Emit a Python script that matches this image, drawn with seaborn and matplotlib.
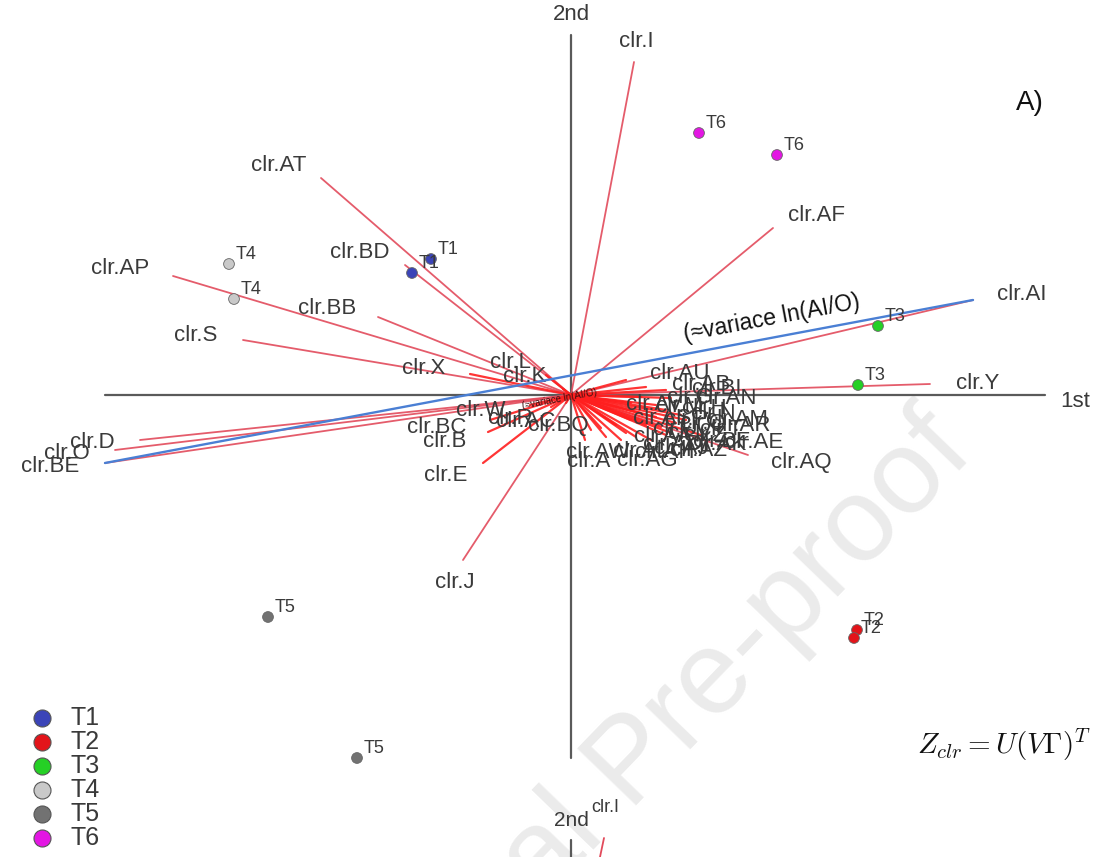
import numpy as np
import pandas as pd
import matplotlib
matplotlib.use("Agg")
import matplotlib.pyplot as plt
import seaborn as sns

# ---- clr variable loadings on the 1st / 2nd axes ----
var_names = ["clr.I", "clr.AT", "clr.AF", "clr.BD", "clr.AP", "clr.BB", "clr.S",
             "clr.L", "clr.K", "clr.X", "clr.AI", "clr.Y", "clr.D", "clr.O", "clr.BE",
             "clr.W", "clr.BC", "clr.B", "clr.E", "clr.J", "clr.R", "clr.BQ", "clr.AC",
             "clr.A", "clr.AK", "clr.AQ",
             "clr.AU", "clr.AB", "clr.BI", "clr.AN", "clr.G", "clr.H", "clr.M", "clr.N",
             "clr.P", "clr.Q", "clr.T", "clr.U", "clr.V", "clr.Z", "clr.AA", "clr.AD",
             "clr.AE", "clr.AG", "clr.AH", "clr.AJ", "clr.AZ", "clr.AL", "clr.AM",
             "clr.AR", "clr.AS", "clr.AV", "clr.AW", "clr.BF"]
var_x = [0.63, -2.50, 2.02, -1.66, -3.98, -1.93, -3.28,
         -0.25, -0.08, -1.01, 4.02, 3.59, -4.31, -4.56, -4.66,
         -0.41, -0.81, -0.83, -0.88, -1.08, -0.20, -0.05, -0.03,
         0.14, 0.95, 1.77,
         0.55, 0.75, 0.95, 1.00, 0.70, 0.85, 0.60, 0.95,
         0.70, 0.85, 1.05, 0.60, 0.75, 0.90, 0.45, 0.55,
         1.30, 0.35, 0.50, 0.65, 0.80, 0.30, 1.10,
         1.15, 0.40, 0.30, 0.20, 1.00]
var_y = [3.33, 2.17, 1.67, 1.30, 1.19, 0.78, 0.55,
         0.20, 0.06, 0.21, 0.95, 0.11, -0.45, -0.55, -0.68,
         -0.10, -0.25, -0.37, -0.68, -1.65, -0.12, -0.08, -0.03,
         -0.45, -0.40, -0.60,
         0.15, 0.08, 0.05, -0.03, -0.02, -0.10, -0.08, -0.15,
         -0.18, -0.22, -0.28, -0.25, -0.30, -0.32, -0.30, -0.38,
         -0.40, -0.42, -0.45, -0.42, -0.45, -0.33, -0.20,
         -0.25, -0.15, -0.05, -0.35, -0.38]

# link between two variable tips and its caption
link_ends = ("clr.AI", "clr.BE")
link_caption = "(≈variace ln(AI/O)"

# ---- sample scores ----
sample_group = ["T1", "T1", "T2", "T2", "T3", "T3", "T4", "T4", "T5", "T5", "T6", "T6"]
sample_x = [-1.40, -1.59, 2.86, 2.83, 3.07, 2.87, -3.42, -3.37, -3.03, -2.14, 1.28, 2.06]
sample_y = [1.36, 1.22, -2.35, -2.43, 0.69, 0.10, 1.31, 0.96, -2.22, -3.63, 2.62, 2.40]

groups = ["T1", "T2", "T3", "T4", "T5", "T6"]
group_colors = {"T1": "#3b44b8", "T2": "#e3141a", "T3": "#25d025",
                "T4": "#c9c9c9", "T5": "#727272", "T6": "#e316e3"}

# neighbouring panel peeking in at the bottom edge
next_axis_label = "2nd"
next_var_name = "clr.I"

sns.set_theme(style="white")
plt.rcParams["font.family"] = ["Liberation Sans", "DejaVu Sans"]
plt.rcParams["mathtext.fontset"] = "cm"

fig = plt.figure(figsize=(10.97, 8.57), dpi=100)
ax = fig.add_axes([0, 0, 1, 1])
ax.set_xlim(-5.71, 5.26)
ax.set_ylim(-4.62, 3.95)
ax.axis("off")

txt_col = "#3a3a3a"

# watermark
ax.text(0.62, -3.70, "Journal Pre-proof", rotation=46, fontsize=86,
        color="#ebebeb", ha="center", va="center", zorder=0)

# axes of the biplot
ax.plot([-4.66, 4.74], [0, 0], color="#5a5a5a", lw=1.6, zorder=1)
ax.plot([0, 0], [3.60, -3.63], color="#5a5a5a", lw=1.6, zorder=1)
ax.text(0, 3.80, "2nd", fontsize=16, color=txt_col, ha="center", va="center")
ax.text(5.04, -0.07, "1st", fontsize=16, color=txt_col, ha="center", va="center")

# variable arrows and their labels
for name, x, y in zip(var_names, var_x, var_y):
    length = np.hypot(x, y)
    short = length < 1.5
    ax.plot([0, x], [0, y], color="#ff1f1f" if short else "#e24a5b",
            lw=1.6 if short else 1.3, alpha=0.9, zorder=2,
            solid_capstyle="round")
    ux, uy = x / length, y / length
    off = (10 + 16 * ux ** 2) / 100.0
    ha = "left" if ux > 0.6 else ("right" if ux < -0.6 else "center")
    va = "bottom" if uy > 0.7 else ("top" if uy < -0.7 else "center")
    ax.text(x + ux * off, y + uy * off, name, fontsize=16, color=txt_col,
            ha=ha, va=va, zorder=3)

# link line between two tips
i0, i1 = var_names.index(link_ends[0]), var_names.index(link_ends[1])
ax.plot([var_x[i0], var_x[i1]], [var_y[i0], var_y[i1]], color="#4a7fd4",
        lw=1.7, zorder=3)
ang = np.degrees(np.arctan2(var_y[i0] - var_y[i1], var_x[i0] - var_x[i1]))
ax.text(2.01, 0.77, link_caption, rotation=ang, fontsize=16.5, color="#111111",
        ha="center", va="center", rotation_mode="anchor", zorder=4)
ax.text(-0.12, -0.04, link_caption, rotation=ang, fontsize=7, color="#3a1010",
        ha="center", va="center", rotation_mode="anchor", zorder=4)

# sample points
scores = pd.DataFrame({"x": sample_x, "y": sample_y, "group": sample_group})
sns.scatterplot(data=scores, x="x", y="y", hue="group", palette=group_colors,
                s=60, edgecolor="#666666", linewidth=0.6, legend=False,
                ax=ax, zorder=5)
for g, x, y in zip(sample_group, sample_x, sample_y):
    ax.annotate(g, (x, y), xytext=(5, 6.5), textcoords="offset points",
                fontsize=13, color=txt_col, ha="left", va="center", zorder=6)

# panel tag and formula
ax.text(4.59, 2.92, "A)", fontsize=20, color="#111111", ha="center", va="center")
ax.text(4.33, -3.50, r"$Z_{clr} = U(V\Gamma)^T$", fontsize=21, color="#111111",
        ha="center", va="center")

# group key
for k, g in enumerate(groups):
    yk = 0.162 - k * 0.028
    ax.scatter([0.038], [yk], transform=ax.transAxes, s=150, marker="o",
               color=group_colors[g], edgecolor="#555555", linewidth=0.8,
               clip_on=False, zorder=6)
    ax.text(0.064, yk, g, transform=ax.transAxes, fontsize=18, color=txt_col,
            ha="left", va="center")

# top of the next panel
ax.plot([0, 0], [-4.45, -4.62], color="#5a5a5a", lw=1.6, zorder=1)
ax.text(0, -4.25, next_axis_label, fontsize=15, color=txt_col, ha="center", va="center")
ax.text(0.34, -4.13, next_var_name, fontsize=13, color=txt_col, ha="center", va="center")
ax.plot([0.33, 0.29], [-4.43, -4.62], color="#e24a5b", lw=1.3, zorder=2)

fig.savefig("out.png", dpi=100)
